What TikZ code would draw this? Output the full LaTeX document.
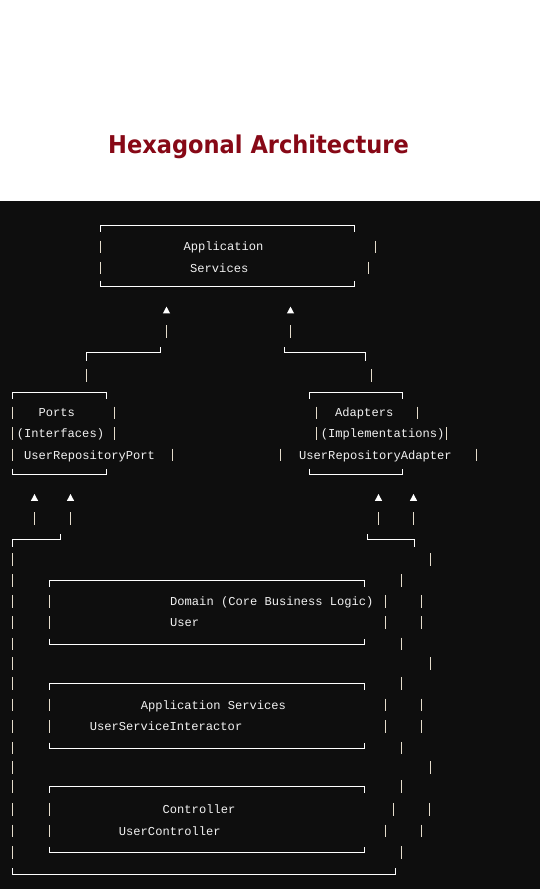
\documentclass[tikz,border=0pt]{standalone}
\usepackage{fontspec}
\setmonofont{Liberation Mono}
\newfontfamily\headfont{DejaVu Sans}
\usetikzlibrary{positioning}

\definecolor{pagebg}{HTML}{0E0E0E}
\definecolor{titlered}{HTML}{870816}
\definecolor{codetxt}{HTML}{F2F2F2}
\definecolor{barcol}{HTML}{E4DCCB}

% box made of corner pieces: x left, x right, y top, y bottom
\newcommand{\asciibox}[4]{%
  \draw[boxline] (#1,#3+6) -- (#1,#3) -- (#2,#3) -- (#2,#3+6);
  \draw[boxline] (#1,#4-6) -- (#1,#4) -- (#2,#4) -- (#2,#4-6);}

\begin{document}
\begin{tikzpicture}[
    x=1pt, y=-1pt,
    % Line styles
    boxline/.style={draw=white, line width=1pt},
    bar/.style={draw=barcol, line width=1.1pt},
    tip/.style={fill=white},
    % Text styles
    code/.style={font=\ttfamily\fontsize{12.1}{14}\selectfont, text=codetxt,
      inner sep=0pt, anchor=base west},
  ]
  \useasboundingbox (0,0) rectangle (540,889);
  \fill[white] (0,0) rectangle (540,201);
  \fill[pagebg] (0,201) rectangle (540,889);

  % --- Title ---
  \node[text=titlered, font=\headfont\bfseries\fontsize{24.5}{28}\selectfont,
    anchor=base] (title) at (258.5,153.5) {\scalebox{0.92}[1]{Hexagonal Architecture}};

  % --- Application Services (top) ---
  \asciibox{100.5}{354.5}{225.5}{286.5}
  \node[code] (appl) at (183.3,250.9) {Application};
  \node[code] (serv) at (190,272.2) {Services};
  \foreach \x/\y in {100.5/247, 100.5/268, 375.5/247, 368.5/268}
    \draw[bar] (\x,\y-6.3) -- (\x,\y+6.3);

  % up arrows into the services box
  \foreach \x in {166.5, 290.5} {
    \fill[tip] (\x-3.6,313.4) -- (\x+3.6,313.4) -- (\x,306.6) -- cycle;
    \draw[bar] (\x,325.4) -- (\x,338);
  }
  \draw[boxline] (160.5,347.3) -- (160.5,352.5) -- (86.5,352.5) -- (86.5,360.5);
  \draw[boxline] (284.5,347.3) -- (284.5,352.5) -- (365.5,352.5) -- (365.5,360.5);
  \foreach \x in {86.5, 371.5}
    \draw[bar] (\x,369.4) -- (\x,382);

  % --- Ports ---
  \asciibox{12.5}{106.5}{392.5}{474.5}
  \node[code] (ports) at (38.3,416.9) {Ports};
  \node[code] (ifaces) at (16.7,437.8) {(Interfaces)};
  \node[code] (repoport) at (24,459.1) {UserRepositoryPort};
  \foreach \x/\y in {12.5/412.8, 114.5/412.8, 12.5/433.7, 114.5/433.7, 12.5/455, 172.5/455}
    \draw[bar] (\x,\y-6.3) -- (\x,\y+6.3);

  % --- Adapters ---
  \asciibox{309.5}{402.5}{392.5}{474.5}
  \node[code] (adapters) at (335,416.9) {Adapters};
  \node[code] (impls) at (320.7,437.8) {(Implementations)};
  \node[code] (repoadapter) at (299,459.1) {UserRepositoryAdapter};
  \foreach \x/\y in {316.5/412.8, 417.5/412.8, 316.5/433.7, 446.5/433.7, 280.5/455, 476.5/455}
    \draw[bar] (\x,\y-6.3) -- (\x,\y+6.3);

  % up arrows into ports and adapters
  \foreach \x in {34.5, 70.5, 378.5, 413.5} {
    \fill[tip] (\x-3.6,500.8) -- (\x+3.6,500.8) -- (\x,494) -- cycle;
    \draw[bar] (\x,512.4) -- (\x,525);
  }
  \draw[boxline] (60.5,534) -- (60.5,539.5) -- (12.5,539.5) -- (12.5,547);
  \draw[boxline] (367.5,534) -- (367.5,539.5) -- (414.5,539.5) -- (414.5,547);

  % --- Outer frame ---
  \foreach \y in {559.4, 580.4, 601.2, 622.3, 644, 663.5, 683.2, 705,
                  726.5, 748.1, 767.5, 786.7, 809.2, 830.8, 852.3}
    \draw[bar] (12.5,\y-6.3) -- (12.5,\y+6.3);
  \draw[boxline] (12.5,868.4) -- (12.5,874.5) -- (395.5,874.5) -- (395.5,868.4);
  \foreach \x/\y in {430.5/559.4, 430.5/663.5, 430.5/767.5,
                     401.5/580.4, 401.5/644, 401.5/683.2, 401.5/748.1, 401.5/786.7, 401.5/852.3,
                     385.5/601.2, 421.5/601.2, 385.5/622.3, 421.5/622.3,
                     385.5/705, 421.5/705, 385.5/726.5, 421.5/726.5,
                     393.5/809.2, 429.5/809.2, 385.5/830.8, 421.5/830.8}
    \draw[bar] (\x,\y-6.3) -- (\x,\y+6.3);

  % --- Inner layers ---
  \asciibox{49.5}{364.5}{580.5}{644.5}
  \asciibox{49.5}{364.5}{683.5}{748.5}
  \asciibox{49.5}{364.5}{786.5}{852.5}
  \foreach \y in {601.2, 622.3, 705, 726.5, 809.2, 830.8}
    \draw[bar] (49.5,\y-6.3) -- (49.5,\y+6.3);

  \node[code] (domain) at (170,605.2) {Domain (Core Business Logic)};
  \node[code] (user) at (170,626.3) {User};
  \node[code] (appsvc) at (140.6,709.3) {Application Services};
  \node[code] (interactor) at (89.6,730.6) {UserServiceInteractor};
  \node[code] (ctrl) at (162.5,813.2) {Controller};
  \node[code] (userctrl) at (118.75,835) {UserController};
\end{tikzpicture}
\end{document}
